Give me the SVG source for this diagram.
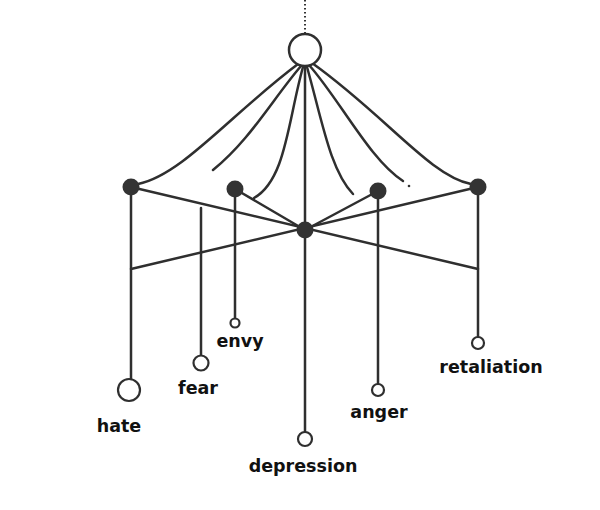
<svg xmlns="http://www.w3.org/2000/svg" width="600" height="510" viewBox="0 0 600 510">
<style>
.ln{stroke:#2f2f2f;stroke-width:2.5;fill:none;stroke-linecap:round}
.dot{fill:#333;stroke:none}
.open{fill:#fff;stroke:#2f2f2f;stroke-width:2.2}
.lbl{font-family:"DejaVu Sans",sans-serif;font-weight:bold;font-size:17.5px;fill:#111;text-anchor:middle}
</style>
<rect width="600" height="510" fill="#fff"/>
<g id="connectors">
<line x1="305" y1="0" x2="305" y2="33" stroke="#333" stroke-width="2" stroke-dasharray="1.5 2.5"/>
<path class="ln" d="M298 64 C230 115 182 175 138 184"/>
<path class="ln" d="M301 66 C272 100 250 140 213 170"/>
<path class="ln" d="M303 67 C288 120 286 180 254 198"/>
<line class="ln" x1="305" y1="66" x2="305" y2="230"/>
<path class="ln" d="M307 67 C322 120 330 170 353 194"/>
<path class="ln" d="M309 65 C340 100 370 160 403 181"/>
<circle class="dot" cx="409" cy="186" r="1.3"/>
<path class="ln" d="M312 63 C385 115 430 176 471 184"/>
<line class="ln" x1="131" y1="187" x2="478" y2="269"/>
<line class="ln" x1="131" y1="269" x2="478" y2="187"/>
<line class="ln" x1="235" y1="189" x2="305" y2="230"/>
<line class="ln" x1="378" y1="191" x2="305" y2="230"/>
<line class="ln" x1="131" y1="187" x2="131" y2="379"/>
<line class="ln" x1="201" y1="208" x2="201" y2="355"/>
<line class="ln" x1="235" y1="189" x2="235" y2="319"/>
<line class="ln" x1="305" y1="230" x2="305" y2="432"/>
<line class="ln" x1="378" y1="191" x2="378" y2="384"/>
<line class="ln" x1="478" y1="187" x2="478" y2="337"/>
</g>
<g id="top"><circle cx="305" cy="50" r="16" fill="#fff" stroke="#2f2f2f" stroke-width="2.5"/></g>
<g id="hubA"><circle class="dot" cx="131" cy="187" r="8.5"/></g>
<g id="hubB"><circle class="dot" cx="235" cy="189" r="8.5"/></g>
<g id="hub"><circle class="dot" cx="305" cy="230" r="8.5"/></g>
<g id="hubC"><circle class="dot" cx="378" cy="191" r="8.5"/></g>
<g id="hubD"><circle class="dot" cx="478" cy="187" r="8.5"/></g>
<g id="hate"><circle class="open" cx="129" cy="390" r="11"/><text class="lbl" x="119" y="432">hate</text></g>
<g id="fear"><circle class="open" cx="201" cy="363" r="7.5"/><text class="lbl" x="198" y="394">fear</text></g>
<g id="envy"><circle class="open" cx="235" cy="323" r="4.5"/><text class="lbl" x="240" y="347">envy</text></g>
<g id="depression"><circle class="open" cx="305" cy="439" r="7"/><text class="lbl" x="303" y="472">depression</text></g>
<g id="anger"><circle class="open" cx="378" cy="390" r="6"/><text class="lbl" x="379" y="418">anger</text></g>
<g id="retaliation"><circle class="open" cx="478" cy="343" r="6"/><text class="lbl" x="491" y="373">retaliation</text></g>
</svg>
